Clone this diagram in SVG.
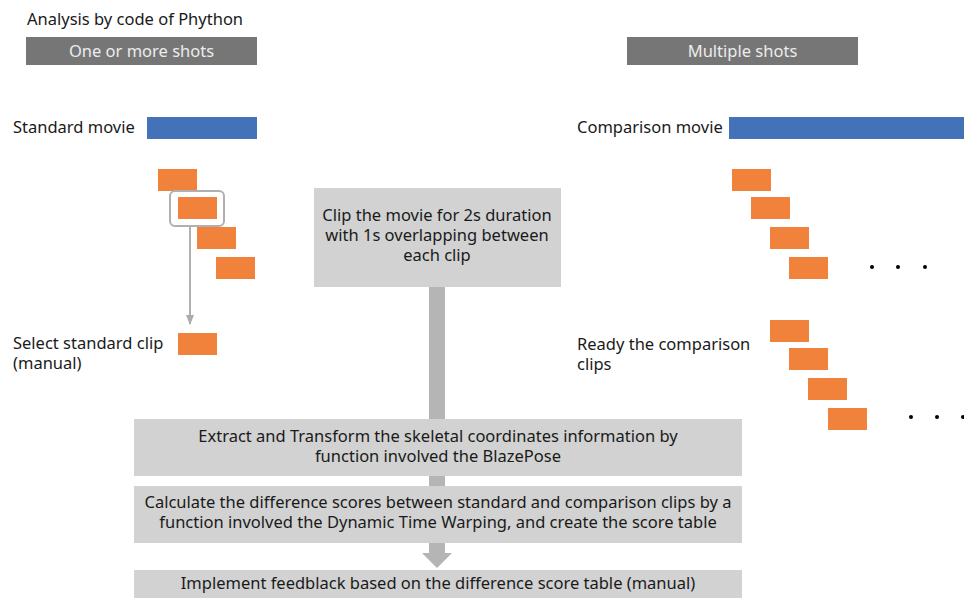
<svg xmlns="http://www.w3.org/2000/svg" width="964" height="598" viewBox="0 0 964 598">
<style>
text{font-family:"Noto Sans","Open Sans","Liberation Sans",sans-serif;font-size:16.5px;fill:#1a1a1a}
.hdr{fill:#767676}
.hdrt{fill:#ececec;text-anchor:middle}
.blue{fill:#4472b8}
.clip{fill:#f0823c}
.box{fill:#d1d2d1}
.c{text-anchor:middle}
.conn{fill:#b4b5b4}
.dot{fill:#000}
</style>
<defs>
<marker id="ah" markerWidth="10" markerHeight="8" refX="9" refY="4" orient="auto" markerUnits="userSpaceOnUse">
<path d="M0,0 L10,4 L0,8 Z" fill="#ababab"/>
</marker>
</defs>
<rect width="964" height="598" fill="#fff"/>
<g id="title"><text x="27" y="25">Analysis by code of Phython</text></g>
<g id="hdr-left"><rect class="hdr" x="26" y="37" width="231" height="28"/><text class="hdrt" x="141.5" y="57">One or more shots</text></g>
<g id="hdr-right"><rect class="hdr" x="627" y="37" width="231" height="28"/><text class="hdrt" x="742.5" y="57">Multiple shots</text></g>
<g id="standard-movie"><text x="13" y="133">Standard movie</text><rect class="blue" x="147" y="117" width="110" height="22"/></g>
<g id="comparison-movie"><text x="577" y="133">Comparison movie</text><rect class="blue" x="729" y="117" width="235" height="22"/></g>
<g id="standard-clips">
<rect class="clip" x="158" y="169" width="39" height="22"/>
<rect x="170" y="191" width="54" height="35" rx="5" fill="none" stroke="#b0b0b0" stroke-width="2"/>
<rect class="clip" x="178" y="197" width="39" height="22"/>
<rect class="clip" x="197" y="227" width="39" height="22"/>
<rect class="clip" x="216" y="257" width="39" height="22"/>
</g>
<g id="select-clip"><text x="13" y="349">Select standard clip</text><text x="13" y="369">(manual)</text><rect class="clip" x="178" y="333" width="39" height="22"/></g>
<g id="comparison-clips">
<rect class="clip" x="732" y="169" width="39" height="22"/>
<rect class="clip" x="751" y="197" width="39" height="22"/>
<rect class="clip" x="770" y="227" width="39" height="22"/>
<rect class="clip" x="789" y="257" width="39" height="22"/>
<circle class="dot" cx="872" cy="267" r="2"/><circle class="dot" cx="898" cy="267" r="2"/><circle class="dot" cx="925" cy="267" r="2"/>
</g>
<g id="ready-clips"><text x="577" y="350">Ready the comparison</text><text x="577" y="370">clips</text>
<rect class="clip" x="770" y="320" width="39" height="22"/>
<rect class="clip" x="789" y="348" width="39" height="22"/>
<rect class="clip" x="808" y="378" width="39" height="22"/>
<rect class="clip" x="828" y="408" width="39" height="22"/>
<circle class="dot" cx="911" cy="417" r="2"/><circle class="dot" cx="937" cy="417" r="2"/><circle class="dot" cx="963" cy="417" r="2"/>
</g>
<g id="connectors">
<line x1="190" y1="226" x2="190" y2="324" stroke="#b0b0b0" stroke-width="2" marker-end="url(#ah)"/>
<rect class="conn" x="429" y="287" width="16" height="133"/>
<rect class="conn" x="429" y="476" width="16" height="10"/>
<path class="conn" d="M429,543 H445 V553 H452 L437,568 L422,553 H429 Z"/>
</g>
<g id="clip-box"><rect class="box" x="314" y="188" width="247" height="99"/>
<text class="c" x="437" y="221">Clip the movie for 2s duration</text>
<text class="c" x="437" y="241">with 1s overlapping between</text>
<text class="c" x="437" y="261">each clip</text></g>
<g id="extract-box"><rect class="box" x="134" y="419" width="608" height="57"/>
<text class="c" x="438" y="442">Extract and Transform the skeletal coordinates information by</text>
<text class="c" x="438" y="462">function involved the BlazePose</text></g>
<g id="calc-box"><rect class="box" x="134" y="486" width="608" height="57"/>
<text class="c" x="438" y="508">Calculate the difference scores between standard and comparison clips by a</text>
<text class="c" x="438" y="528">function involved the Dynamic Time Warping, and create the score table</text></g>
<g id="feedback-box"><rect class="box" x="134" y="570" width="608" height="28"/>
<text class="c" x="438" y="589">Implement feedblack based on the difference score table (manual)</text></g>
</svg>
